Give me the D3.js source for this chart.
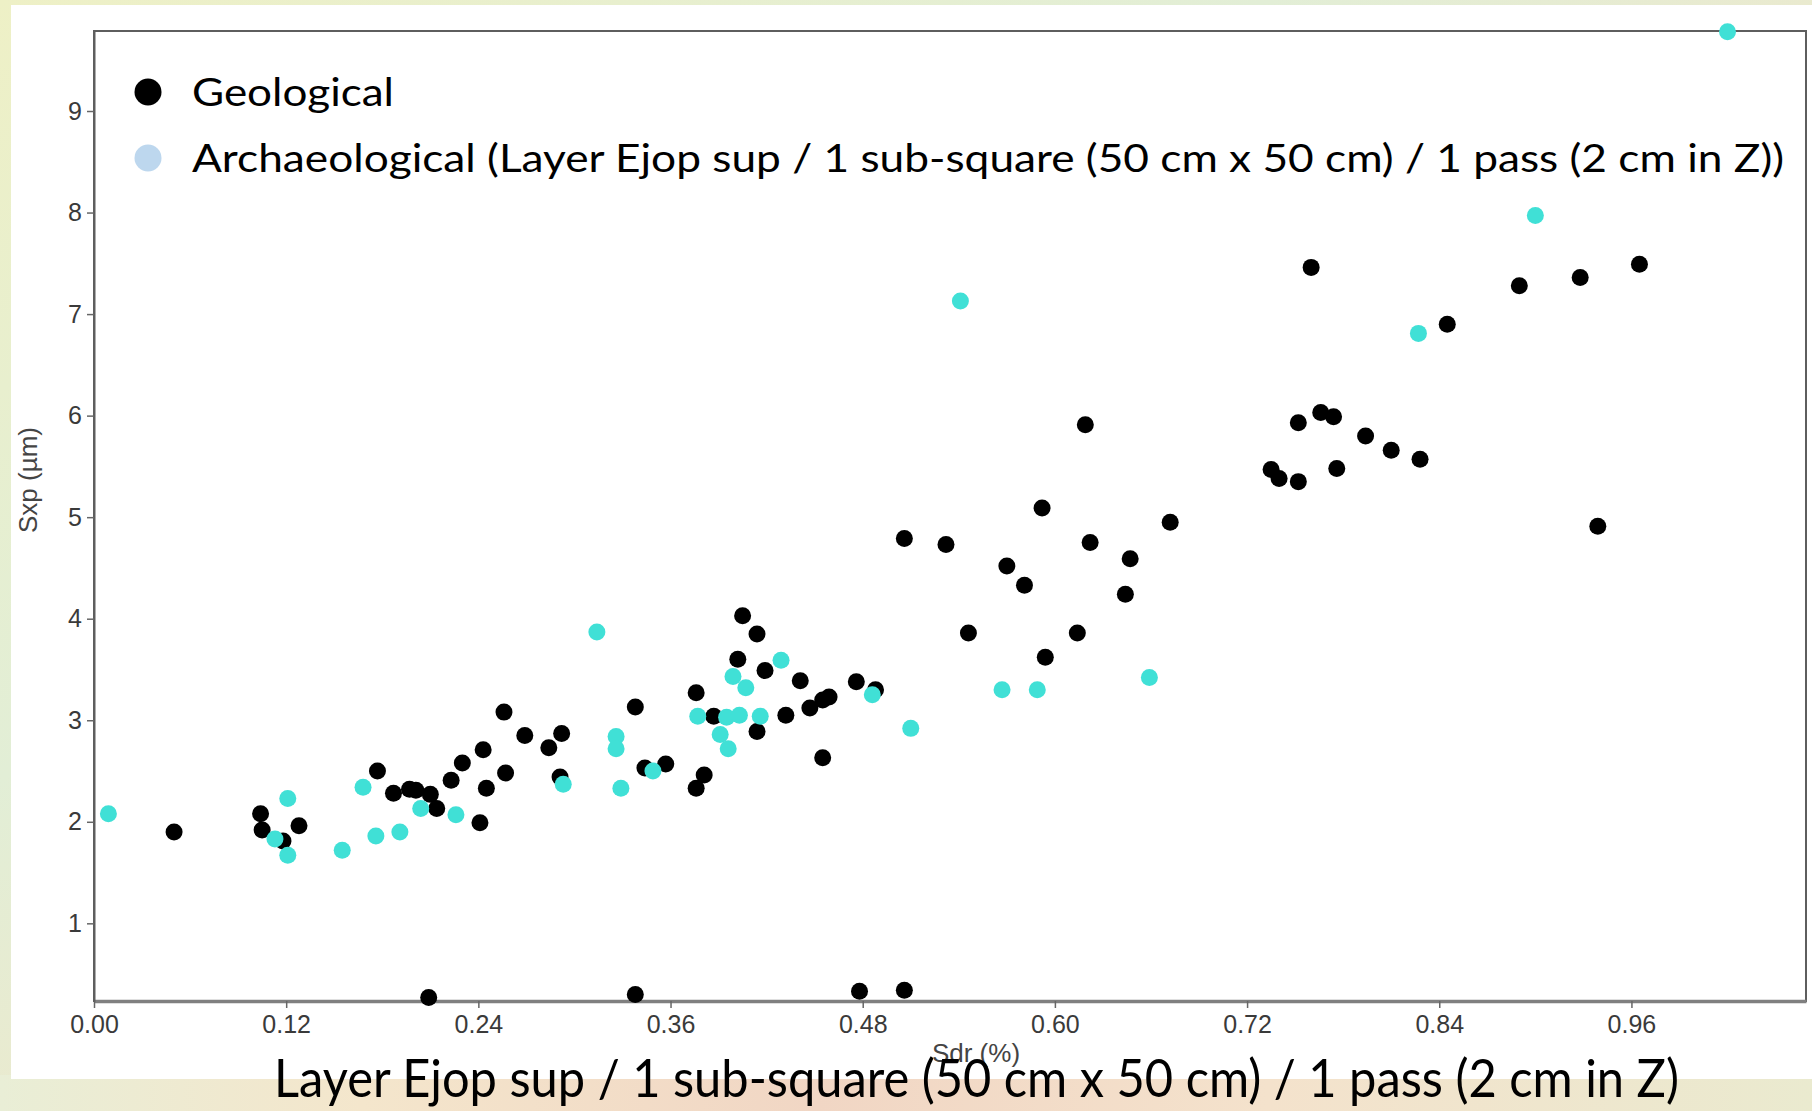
<!DOCTYPE html>
<html>
<head>
<meta charset="utf-8">
<script src="https://cdn.jsdelivr.net/npm/d3@7"></script>
<style>
html,body{margin:0;padding:0;overflow:hidden;background:#fff;}
svg{display:block;}
</style>
</head>
<body>
<svg id="chart" width="1812" height="1111"></svg>
<script>
// ---------------- DATA ----------------
const seriesNames = ["Geological", "Archaeological (Layer Ejop sup / 1 sub-square (50 cm x 50 cm) / 1 pass (2 cm in Z))"];
const xTitle = "Sdr (%)";
const yTitle = "Sxp (µm)";
const caption = "Layer Ejop sup / 1 sub-square (50 cm x 50 cm) / 1 pass (2 cm in Z)";
const xTicks = [0.00, 0.12, 0.24, 0.36, 0.48, 0.60, 0.72, 0.84, 0.96];
const yTicks = [1, 2, 3, 4, 5, 6, 7, 8, 9];

const geoX = [0.050,0.104,0.105,0.118,0.128,0.177,0.187,0.197,0.201,0.210,0.214,0.223,0.230,0.243,0.245,0.241,0.257,0.256,0.269,0.284,
              0.292,0.291,0.338,0.344,0.357,0.376,0.376,0.381,0.387,0.402,0.405,0.414,0.414,0.419,0.432,0.441,0.447,0.455,0.459,0.455,
              0.476,0.488,0.506,0.532,0.546,0.570,0.581,0.592,0.594,0.614,0.619,0.622,0.644,0.647,0.672,0.735,0.740,0.752,0.752,0.760,
              0.766,0.774,0.776,0.794,0.810,0.828,0.845,0.890,0.928,0.939,0.965,0.209,0.338,0.478,0.506];
const geoY = [1.90,2.08,1.92,1.81,1.96,2.50,2.28,2.32,2.31,2.27,2.13,2.41,2.58,2.71,2.33,1.99,2.48,3.08,2.85,2.73,
              2.87,2.44,3.13,2.53,2.57,3.27,2.33,2.46,3.04,3.60,4.03,3.85,2.89,3.49,3.05,3.39,3.12,3.20,3.23,2.63,
              3.38,3.30,4.79,4.73,3.86,4.52,4.33,5.09,3.62,3.86,5.91,4.75,4.24,4.59,4.95,5.47,5.38,5.35,5.93,7.46,
              6.03,5.99,5.48,5.80,5.66,5.57,6.90,7.28,7.36,4.91,7.49,0.27,0.30,0.33,0.34];

const archX = [0.009,0.121,0.113,0.121,0.155,0.168,0.176,0.191,0.204,0.226,0.293,0.314,0.326,0.326,0.329,0.349,0.377,0.391,0.396,0.395,
               0.403,0.416,0.399,0.407,0.429,0.486,0.510,0.541,0.567,0.589,0.659,0.827,0.900,1.020];
const archY = [2.08,2.23,1.83,1.67,1.72,2.34,1.86,1.90,2.13,2.07,2.37,3.87,2.84,2.72,2.33,2.50,3.04,2.86,2.72,3.03,
               3.05,3.04,3.43,3.32,3.59,3.25,2.92,7.13,3.30,3.30,3.42,6.81,7.97,9.78];

// ---------------- LAYOUT ----------------
const W = 1812, H = 1111;
const plot = {left: 94, right: 1806, top: 31, bottom: 1001};
const svg = d3.select("#chart");

// background texture (decorative)
const defs = svg.append("defs");
const bg = defs.append("linearGradient").attr("id","bgGrad").attr("x1","0").attr("y1","0").attr("x2","1").attr("y2","1");
bg.append("stop").attr("offset","0%").attr("stop-color","#eef0c6");
bg.append("stop").attr("offset","35%").attr("stop-color","#e2eed6");
bg.append("stop").attr("offset","65%").attr("stop-color","#f1e6c8");
bg.append("stop").attr("offset","100%").attr("stop-color","#f0d6c6");
const bot = defs.append("linearGradient").attr("id","botGrad").attr("x1","0").attr("y1","0").attr("x2","1").attr("y2","0");
bot.append("stop").attr("offset","0%").attr("stop-color","#e9eed6");
bot.append("stop").attr("offset","20%").attr("stop-color","#f4e6cc");
bot.append("stop").attr("offset","45%").attr("stop-color","#f1d6c4");
bot.append("stop").attr("offset","70%").attr("stop-color","#f4e2cc");
bot.append("stop").attr("offset","100%").attr("stop-color","#eaeacf");
svg.append("rect").attr("x",0).attr("y",0).attr("width",W).attr("height",H).attr("fill","url(#bgGrad)");
svg.append("rect").attr("x",0).attr("y",1075).attr("width",W).attr("height",H-1075).attr("fill","url(#botGrad)");

// white panel
svg.append("rect").attr("x",11).attr("y",5).attr("width",W-11).attr("height",1074).attr("fill","#ffffff");

// scales
const x = d3.scaleLinear().domain([0, 1.069]).range([plot.left, plot.right]);
const y = d3.scaleLinear().domain([0.235, 9.788]).range([plot.bottom, plot.top]);

// frame
svg.append("rect")
  .attr("x", plot.left).attr("y", plot.top)
  .attr("width", plot.right - plot.left).attr("height", plot.bottom - plot.top)
  .attr("fill","none").attr("stroke","#5e5e5e").attr("stroke-width",2);

// axes
const tickFont = "'Liberation Sans', Arial, Helvetica, sans-serif";
const xAxis = svg.append("g").attr("transform", `translate(0,${plot.bottom})`)
  .call(d3.axisBottom(x).tickValues(xTicks).tickFormat(d3.format(".2f")).tickSize(7).tickSizeOuter(0).tickPadding(7));
xAxis.select(".domain").attr("stroke","#808080").attr("stroke-width",3.5);
xAxis.selectAll(".tick line").attr("stroke","#666").attr("stroke-width",1.5);
xAxis.selectAll(".tick text").attr("fill","#3a3a3a").style("font-family",tickFont).style("font-size","25px");

const yAxis = svg.append("g").attr("transform", `translate(${plot.left},0)`)
  .call(d3.axisLeft(y).tickValues(yTicks).tickFormat(d3.format("d")).tickSize(7).tickSizeOuter(0).tickPadding(5));
yAxis.select(".domain").attr("stroke","#5e5e5e").attr("stroke-width",2);
yAxis.selectAll(".tick line").attr("stroke","#666").attr("stroke-width",1.5);
yAxis.selectAll(".tick text").attr("fill","#3a3a3a").style("font-family",tickFont).style("font-size","25px");

// axis titles
svg.append("text").attr("x", 976).attr("y", 1062).attr("text-anchor","middle")
  .attr("fill","#444").style("font-family",tickFont).style("font-size","26px").text(xTitle);
svg.append("text").attr("transform","translate(37,480) rotate(-90)").attr("text-anchor","middle")
  .attr("fill","#444").style("font-family",tickFont).style("font-size","26px").text(yTitle);

// points
const R = 8.5;
const geo = d3.zip(geoX, geoY);
const arch = d3.zip(archX, archY);
svg.append("g").selectAll("circle").data(geo).join("circle")
  .attr("cx", d => x(d[0])).attr("cy", d => y(d[1])).attr("r", R).attr("fill","#000");
svg.append("g").selectAll("circle").data(arch).join("circle")
  .attr("cx", d => x(d[0])).attr("cy", d => y(d[1])).attr("r", R).attr("fill","#40e0d6");

// legend
const legFont = "Lato, 'Open Sans', sans-serif";
const leg = svg.append("g");
const legColors = ["#000000", "#bdd7ee"];
const legY = [92, 158];
const legW = [202, 1592];
seriesNames.forEach((name, i) => {
  leg.append("circle").attr("cx",148).attr("cy",legY[i]).attr("r",13.5).attr("fill",legColors[i]);
  leg.append("text").attr("x",192).attr("y",legY[i]+14).attr("fill","#000")
    .style("font-family",legFont).style("font-size","38px")
    .attr("textLength", legW[i]).attr("lengthAdjust","spacingAndGlyphs").text(name);
});

// caption
svg.append("text").attr("x",274).attr("y",1097).attr("fill","#000")
  .style("font-family",legFont).style("font-size","52px")
  .attr("textLength",1405).attr("lengthAdjust","spacingAndGlyphs").text(caption);
</script>
</body>
</html>
